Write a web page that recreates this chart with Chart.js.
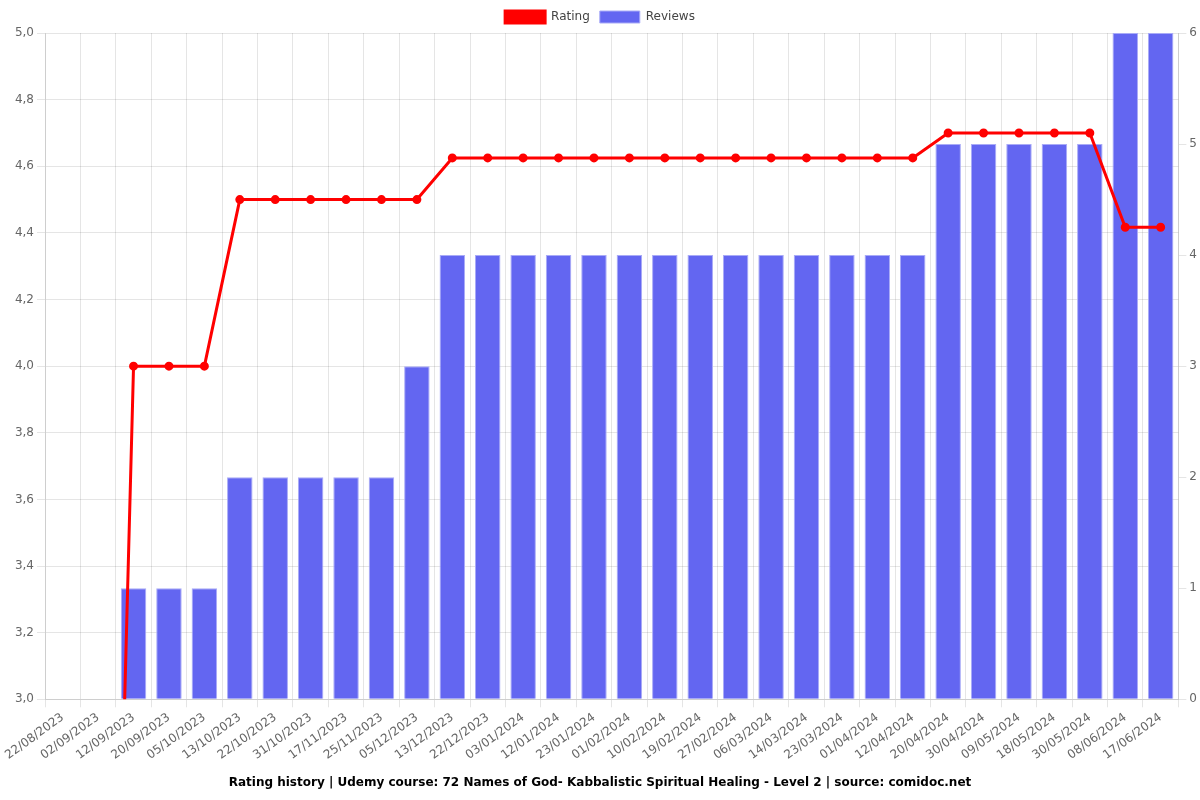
<!DOCTYPE html>
<html>
<head>
<meta charset="utf-8">
<script src="https://cdn.jsdelivr.net/npm/chart.js@4"></script>
<style>
    body { margin: 0; background: #fff; }
    #wrap { width: 1200px; height: 800px; }
</style>
</head>
<body>
<div id="wrap"><canvas id="ratingChart"></canvas></div>
<script>
// Data
const dates = [
    "22/08/2023", "02/09/2023", "12/09/2023", "20/09/2023", "05/10/2023",
    "13/10/2023", "22/10/2023", "31/10/2023", "17/11/2023", "25/11/2023",
    "05/12/2023", "13/12/2023", "22/12/2023", "03/01/2024", "12/01/2024",
    "23/01/2024", "01/02/2024", "10/02/2024", "19/02/2024", "27/02/2024",
    "06/03/2024", "14/03/2024", "23/03/2024", "01/04/2024", "12/04/2024",
    "20/04/2024", "30/04/2024", "09/05/2024", "18/05/2024", "30/05/2024",
    "08/06/2024", "17/06/2024",
];
const ratings = [
    0, 0, 4, 4, 4, 4.5, 4.5, 4.5, 4.5, 4.5,
    4.5, 4.625, 4.625, 4.625, 4.625, 4.625, 4.625, 4.625, 4.625, 4.625,
    4.625, 4.625, 4.625, 4.625, 4.625, 4.7, 4.7, 4.7, 4.7, 4.7,
    4.417, 4.417,
];
const reviews = [
    0, 0, 1, 1, 1, 2, 2, 2, 2, 2,
    3, 4, 4, 4, 4, 4, 4, 4, 4, 4,
    4, 4, 4, 4, 4, 5, 5, 5, 5, 5,
    6, 6,
];
const chartTitle =
    "Rating history | Udemy course: 72 Names of God- Kabbalistic Spiritual Healing - Level 2 | source: comidoc.net";

Chart.defaults.font.family = "DejaVu Sans";
Chart.defaults.font.size = 12;
Chart.defaults.color = "#666";

const ctx = document.getElementById("ratingChart").getContext("2d");
new Chart(ctx, {
    type: "bar",
    data: {
        labels: dates,
        datasets: [
            {
                type: "line",
                label: "Rating",
                data: ratings,
                yAxisID: "y",
                borderColor: "#ff0000",
                backgroundColor: "#ff0000",
                borderWidth: 3,
                pointRadius: 3,
                pointBackgroundColor: "#ff0000",
                pointBorderColor: "#ff0000",
                tension: 0,
            },
            {
                label: "Reviews",
                data: reviews,
                yAxisID: "y1",
                backgroundColor: "#6366f1",
                borderColor: "#a9abf7",
                borderWidth: 1,
            },
        ],
    },
    options: {
        responsive: true,
        maintainAspectRatio: false,
        animation: false,
        layout: { padding: { top: 1 } },
        plugins: {
            legend: {
                position: "top",
                labels: { color: "#444" },
            },
            title: {
                display: true,
                text: chartTitle,
                position: "bottom",
                color: "#000",
                font: { weight: "bold", size: 12 },
            },
        },
        scales: {
            x: {
                ticks: { minRotation: 36, maxRotation: 36 },
            },
            y: {
                position: "left",
                min: 3,
                max: 5,
                afterFit: (axis) => {
                    axis.width = 45;
                },
                ticks: {
                    stepSize: 0.2,
                    callback: (value) => value.toFixed(1).replace(".", ","),
                },
            },
            y1: {
                position: "right",
                min: 0,
                max: 6,
                ticks: { stepSize: 1 },
                grid: { drawOnChartArea: false },
            },
        },
    },
});
</script>
</body>
</html>
